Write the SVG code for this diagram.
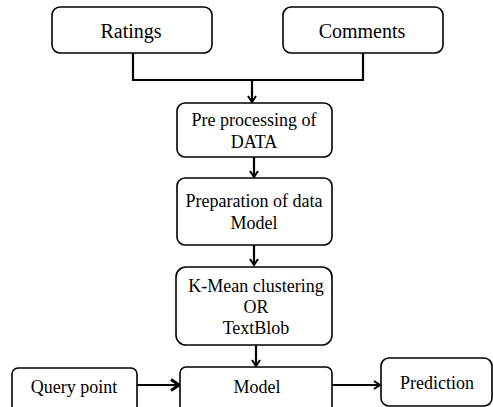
<svg xmlns="http://www.w3.org/2000/svg" width="493" height="407" viewBox="0 0 493 407">
<style>
.box{fill:#fff;stroke:#000;stroke-width:1.6}
.t{font-family:"Liberation Serif","Times New Roman",serif;font-size:18px;fill:#000;text-anchor:middle}
.big{font-size:20px}
.c{fill:none;stroke:#000;stroke-width:2.2}
</style>
<defs>
<marker id="ah" markerWidth="10" markerHeight="10" refX="8" refY="5" orient="auto" markerUnits="userSpaceOnUse">
<path d="M2,1 L8,5 L2,9" fill="none" stroke="#000" stroke-width="2"/>
</marker>
<marker id="ahb" markerWidth="12" markerHeight="14" refX="10" refY="7" orient="auto" markerUnits="userSpaceOnUse">
<path d="M2,1.5 L10,7 L2,12.5" fill="none" stroke="#000" stroke-width="3"/>
</marker>
</defs>
<g id="connectors">
<path class="c" d="M133,53 V80 H363 V53"/>
<path class="c" d="M252,80 V102" marker-end="url(#ah)"/>
<path class="c" d="M254,157 V177" marker-end="url(#ah)"/>
<path class="c" d="M254,245 V265" marker-end="url(#ah)"/>
<path class="c" d="M256,345 V366" marker-end="url(#ah)"/>
<path class="c" d="M137,385 H179" marker-end="url(#ahb)"/>
<path class="c" d="M332,385 H380" marker-end="url(#ah)"/>
</g>
<g id="ratings">
<rect class="box" x="52" y="7" width="160" height="46" rx="8"/>
<text class="t big" x="131" y="38">Ratings</text>
</g>
<g id="comments">
<rect class="box" x="283" y="7" width="160" height="46" rx="8"/>
<text class="t big" x="362" y="38">Comments</text>
</g>
<g id="preprocessing">
<rect class="box" x="177" y="103" width="155" height="54" rx="8"/>
<text class="t" x="254" y="126">Pre processing of</text>
<text class="t" x="254" y="148">DATA</text>
</g>
<g id="preparation">
<rect class="box" x="177" y="178" width="155" height="67" rx="8"/>
<text class="t" x="254" y="207">Preparation of data</text>
<text class="t" x="254" y="229">Model</text>
</g>
<g id="kmean">
<rect class="box" x="176" y="267" width="156" height="78" rx="10"/>
<text class="t" x="256" y="292">K-Mean clustering</text>
<text class="t" x="256" y="313">OR</text>
<text class="t" x="256" y="334">TextBlob</text>
</g>
<g id="query">
<rect class="box" x="12" y="368" width="125" height="46" rx="6"/>
<text class="t" x="74" y="393">Query point</text>
</g>
<g id="model">
<rect class="box" x="180" y="367" width="152" height="48" rx="6"/>
<text class="t" x="257" y="393">Model</text>
</g>
<g id="prediction">
<rect class="box" x="381" y="358" width="111" height="48" rx="8"/>
<text class="t" x="437" y="389">Prediction</text>
</g>
</svg>
